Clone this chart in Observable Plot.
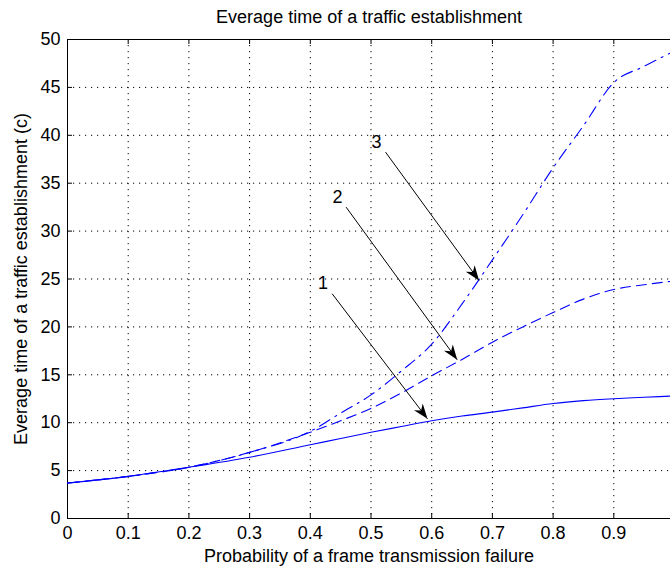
<!DOCTYPE html>
<html>
<head>
<meta charset="utf-8">
<script src="https://cdn.jsdelivr.net/npm/d3@7"></script>
<script src="https://cdn.jsdelivr.net/npm/@observablehq/plot@0.6"></script>
<style>
  html, body { margin: 0; padding: 0; background: #fff; }
  #chart svg { display: block; }
</style>
</head>
<body>
<div id="chart"></div>
<script>
// ---- data ----
const titleText = "Everage time of a traffic establishment";
const xLabelText = "Probability of a frame transmission failure";
const yLabelText = "Everage time of a traffic establishment (c)";

const xTicks = [0, 0.1, 0.2, 0.3, 0.4, 0.5, 0.6, 0.7, 0.8, 0.9];
const xTickLabels = ["0", "0.1", "0.2", "0.3", "0.4", "0.5", "0.6", "0.7", "0.8", "0.9"];
const yTicks = [0, 5, 10, 15, 20, 25, 30, 35, 40, 45, 50];
const yTickLabels = ["0", "5", "10", "15", "20", "25", "30", "35", "40", "45", "50"];

const pX = [0, 0.1, 0.2, 0.3, 0.4, 0.45, 0.5, 0.55, 0.6, 0.65, 0.7, 0.75, 0.8, 0.85, 0.9, 0.95, 1.0];
const curve1 = [3.7, 4.4, 5.35, 6.4, 7.7, 8.35, 9.0, 9.6, 10.2, 10.7, 11.1, 11.55, 12.0, 12.3, 12.5, 12.65, 12.8];
const curve2 = [3.7, 4.4, 5.35, 6.9, 9.0, 10.2, 11.5, 13.1, 14.9, 16.6, 18.4, 20.0, 21.5, 22.9, 23.9, 24.4, 24.8];
const curve3 = [3.7, 4.4, 5.35, 6.9, 9.1, 11.0, 12.9, 15.4, 18.2, 22.4, 27.0, 31.7, 36.6, 41.0, 45.5, 47.2, 48.8];

const annLabels = ["1", "2", "3"];
const annLabelX = [0.421, 0.445, 0.509];
const annLabelY = [24.56, 33.54, 39.28];
const arrowX1 = [0.436, 0.459, 0.524];
const arrowY1 = [23.46, 32.5, 38.24];
const arrowX2 = [0.593, 0.642, 0.678];
const arrowY2 = [10.41, 16.57, 24.84];

// ---- build tables ----
const seriesDefs = [
  {name: "1", values: curve1, dash: null},
  {name: "2", values: curve2, dash: "10,6"},
  {name: "3", values: curve3, dash: "12,6,2,6"}
];
const ann = annLabels.map((t, i) => ({
  t, lx: annLabelX[i], ly: annLabelY[i],
  x1: arrowX1[i], y1: arrowY1[i], x2: arrowX2[i], y2: arrowY2[i]
}));
const fmtX = d => xTickLabels[xTicks.indexOf(d)];
const fmtY = d => yTickLabels[yTicks.indexOf(d)];

const W = 670, H = 569;
const mL = 67, mR = 0, mT = 39, mB = 51;
const plotW = W - mL - mR, plotH = H - mT - mB;
const FONT = "'Liberation Sans', Arial, sans-serif";
const FS = 18;

function headMarker(color, context) {
  const ns = "http://www.w3.org/2000/svg";
  const doc = (context && context.ownerDocument) || document;
  const m = doc.createElementNS(ns, "marker");
  m.setAttribute("viewBox", "-16 -6 17 12");
  m.setAttribute("markerWidth", "17");
  m.setAttribute("markerHeight", "12");
  m.setAttribute("refX", "0");
  m.setAttribute("refY", "0");
  m.setAttribute("orient", "auto");
  m.setAttribute("markerUnits", "userSpaceOnUse");
  const p = doc.createElementNS(ns, "path");
  p.setAttribute("d", "M0,0L-15,-5.5L-10.5,0L-15,5.5Z");
  p.setAttribute("fill", "black");
  p.setAttribute("stroke", "none");
  m.appendChild(p);
  return m;
}

function build(marker) {
  const tickLen = 5;
  return Plot.plot({
    width: W, height: H,
    marginLeft: mL, marginRight: mR, marginTop: mT, marginBottom: mB,
    style: {fontFamily: FONT, fontSize: FS + "px", color: "black", background: "white", overflow: "visible"},
    x: {domain: [0, 0.9934]},
    y: {domain: [0, 50]},
    marks: [
      // grid
      Plot.gridX(xTicks.filter(d => d > 0), {stroke: "black", strokeOpacity: 1, strokeWidth: 1, strokeDasharray: "1.2,4.8"}),
      Plot.gridY(yTicks.filter(d => d > 0 && d < 50), {stroke: "black", strokeOpacity: 1, strokeWidth: 1, strokeDasharray: "1.2,4.8"}),
      // inward ticks
      Plot.tickX(xTicks, {x: d => d, stroke: "black", insetTop: plotH - tickLen}),
      Plot.tickX(xTicks, {x: d => d, stroke: "black", insetBottom: plotH - tickLen}),
      Plot.tickY(yTicks, {y: d => d, stroke: "black", insetRight: plotW - tickLen}),
      // box
      Plot.ruleY([0, 50], {stroke: "black", strokeWidth: 1}),
      Plot.ruleX([0], {stroke: "black", strokeWidth: 1}),
      // tick labels
      Plot.axisX(xTicks, {tickSize: 0, tickPadding: 8, tickFormat: fmtX, label: null, fontSize: FS, fill: "black"}),
      Plot.axisY(yTicks, {tickSize: 0, tickPadding: 7, tickFormat: fmtY, label: null, fontSize: FS, fill: "black"}),
      // curves
      ...seriesDefs.map(s => Plot.line(pX.map((x, i) => ({x, y: s.values[i]})), {
        x: "x", y: "y", stroke: "#0000ff", strokeWidth: 1.1, curve: "monotone-x",
        strokeDasharray: s.dash, clip: true
      })),
      // annotation arrows
      Plot.link(ann, {x1: "x1", y1: "y1", x2: "x2", y2: "y2", stroke: "black", strokeWidth: 1, markerEnd: marker}),
      Plot.text(ann, {x: "lx", y: "ly", text: "t", fontSize: FS, fill: "black"}),
      // titles
      Plot.text([titleText], {frameAnchor: "top", dy: -22, lineAnchor: "middle", textAnchor: "middle", fontSize: FS, fill: "black"}),
      Plot.text([xLabelText], {frameAnchor: "bottom", dy: 38, lineAnchor: "middle", textAnchor: "middle", fontSize: FS, fill: "black"}),
      Plot.text([yLabelText], {frameAnchor: "left", dx: -46, rotate: -90, lineAnchor: "middle", textAnchor: "middle", fontSize: FS, fill: "black"})
    ]
  });
}

let chart;
try { chart = build(headMarker); } catch (e) { chart = build("arrow"); }
document.getElementById("chart").append(chart);
</script>
</body>
</html>
